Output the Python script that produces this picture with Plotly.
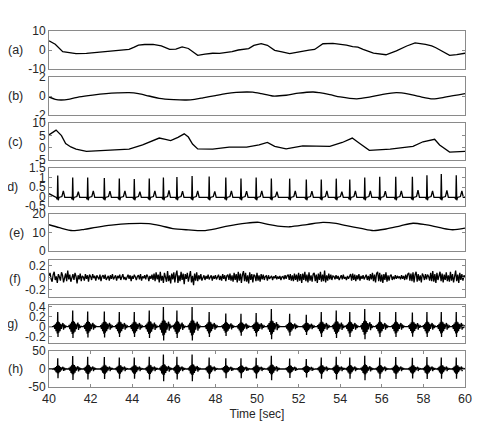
import plotly.graph_objects as go

# ---------------- data ----------------
a_t = [40.0, 40.3, 40.66, 41.0, 41.3, 41.8, 42.26, 42.6, 43.0, 43.4, 43.85, 44.1,
       44.3, 44.6, 45.0, 45.4, 45.8, 46.1, 46.4, 46.7, 47.15, 47.5, 47.87, 48.2,
       48.5, 48.8, 49.1, 49.6, 49.85, 50.2, 50.5, 50.85, 51.2, 51.57, 51.9, 52.2,
       52.5, 52.77, 53.17, 53.65, 54.0, 54.3, 54.6, 54.85, 55.1, 55.6, 56.2, 56.7,
       57.2, 57.6, 58.1, 58.4, 58.6, 59.0, 59.26, 59.6, 60.0]
a_v = [4.8, 3.0, -0.9, -1.6, -1.9, -1.8, -1.4, -1.1, -0.6, -0.2, 0.3, 1.5,
       2.6, 2.9, 3.0, 2.2, 0.3, 0.5, 1.6, 0.8, -2.8, -2.2, -1.7, -1.8,
       -1.4, -0.9, 0.0, 0.7, 2.4, 3.3, 2.5, -0.2, -1.0, -1.9, -1.2, -0.5,
       -0.1, 0.3, 3.3, 3.5, 3.1, 2.6, 1.8, 1.5, 0.3, -1.7, -2.5, -0.5,
       2.1, 3.7, 3.0, 2.2, 1.2, -1.0, -2.8, -2.4, -1.7]

b_t = [40.0, 40.3, 40.58, 41.0, 41.45, 42.1, 42.75, 43.3, 43.85, 44.3, 44.8,
       45.3, 46.0, 46.6, 47.0, 47.4, 48.0, 48.5, 49.0, 49.5, 49.8, 50.2, 50.75,
       51.4, 52.0, 52.7, 53.0, 53.5, 54.0, 54.8, 55.4, 56.0, 56.7, 57.3, 57.8,
       58.45, 59.1, 60.0]
b_v = [-0.1, -0.35, -0.42, -0.32, -0.1, 0.1, 0.25, 0.32, 0.35, 0.25, 0.0,
       -0.25, -0.38, -0.42, -0.35, -0.2, 0.05, 0.25, 0.38, 0.42, 0.4, 0.25, 0.0,
       0.08, 0.3, 0.42, 0.35, 0.15, -0.1, -0.3, -0.12, 0.15, 0.35, 0.2, -0.05,
       -0.3, -0.1, 0.25]

c_t = [40.0, 40.34, 40.6, 40.8, 41.05, 41.3, 41.8, 42.5, 43.06, 43.85, 44.5,
       45.0, 45.3, 45.6, 45.85, 46.2, 46.5, 46.7, 46.9, 47.15, 47.87, 48.66,
       49.5, 50.1, 50.5, 50.85, 51.4, 52.2, 53.5, 54.1, 54.58, 54.94, 55.4,
       56.4, 57.5, 57.98, 58.54, 58.78, 59.26, 60.0]
c_v = [5.2, 7.1, 4.9, 1.7, 0.3, -0.6, -1.5, -1.2, -0.8, -0.6, 1.1,
       2.8, 3.9, 3.4, 2.9, 4.2, 5.6, 4.3, 1.5, -0.5, -0.6, 0.2,
       0.2, 1.1, 2.1, 0.5, -0.5, 0.7, 0.5, 2.1, 3.9, 1.7, -1.1,
       -0.6, 0.5, 2.4, 3.4, 1.1, -1.8, -1.5]

# heart beat times (R peaks) shared by panels d, g, h
beats = [40.42, 41.14, 41.86, 42.66, 43.38, 44.1, 44.82, 45.5, 46.15, 46.88,
         47.7, 48.5, 49.23, 49.96, 50.69, 51.57, 52.37, 53.09, 53.81, 54.46,
         55.18, 55.9, 56.67, 57.47, 58.17, 58.86, 59.58]
d_r = [1.1, 1.0, 1.0, 0.97, 0.95, 0.92, 0.95, 1.0, 1.03, 1.08, 1.05, 1.0,
       0.95, 1.0, 0.95, 0.94, 0.9, 0.9, 0.94, 0.9, 1.0, 1.04, 1.04, 1.04,
       1.12, 1.18, 1.12]
d_tw = [0.3, 0.25, 0.3, 0.28, 0.3, 0.25, 0.3, 0.32, 0.28, 0.3, 0.27, 0.3,
        0.28, 0.3, 0.26, 0.3, 0.28, 0.3, 0.25, 0.3, 0.3, 0.28, 0.3, 0.33,
        0.3, 0.32, 0.3]
# one beat of panel d: offsets (s) and values ("R" / "T" -> per-beat heights)
d_off = [-0.07, -0.02, 0.0, 0.025, 0.06, 0.2, 0.27, 0.34]
d_shape = [-0.05, -0.15, "R", -0.2, -0.05, 0.0, "T", -0.05]

f_v = [0.03, 0.08, -0.02, -0.07, 0.05, 0.10, -0.04, 0.02, -0.09, 0.06, 0.01, -0.05, 0.09, 0.04, -0.08, -0.02, 0.07, -0.06, 0.12, -0.03,
       0.05, -0.07, -0.01, 0.06, -0.04, 0.08, 0.02, -0.10, 0.04, -0.03, 0.07, -0.06, 0.03, 0.01, -0.05, 0.06, -0.02, 0.04, -0.07, 0.05,
       0.02, -0.04, 0.06, -0.01, 0.03, -0.05, 0.04, 0.00, -0.03, 0.05, -0.06, 0.02, 0.04, -0.02, 0.05, -0.04, 0.01, 0.03, -0.05, 0.04,
       -0.02, 0.06, -0.03, 0.02, 0.04, -0.05, 0.03, -0.01, 0.05, -0.04, 0.02, 0.06, -0.03, 0.01, -0.04, 0.03, 0.05, -0.02, 0.04, -0.06,
       0.03, -0.02, 0.05, 0.01, -0.04, 0.02, 0.04, -0.03, 0.06, -0.05, 0.02, -0.01, 0.04, -0.03, 0.05, 0.02, -0.06, 0.03, -0.02, 0.05,
       -0.04, 0.07, -0.06, 0.09, -0.03, 0.05, -0.08, 0.10, -0.05, 0.03, -0.09, 0.08, 0.02, -0.07, 0.11, -0.06, 0.04, -0.10, 0.07, -0.03,
       0.09, -0.08, 0.05, 0.12, -0.09, 0.04, -0.06, 0.10, -0.04, 0.07, -0.11, 0.06, -0.02, 0.08, -0.07, 0.05, 0.11, -0.08, 0.03, -0.13,
       0.07, -0.05, 0.09, -0.06, 0.04, -0.03, 0.06, -0.05, 0.02, 0.04, -0.04, 0.03, -0.02, 0.05, -0.03, 0.01, 0.04, -0.05, 0.03, -0.02,
       0.04, -0.03, 0.02, 0.05, -0.04, 0.03, -0.05, 0.06, -0.02, 0.04, -0.06, 0.03, 0.05, -0.04, 0.07, -0.05, 0.04, -0.07, 0.08, -0.04,
       0.06, -0.08, 0.10, -0.05, 0.07, -0.09, 0.05, 0.11, -0.06, 0.08, -0.07, 0.04, -0.10, 0.09, -0.04, 0.06, -0.08, 0.05, 0.03, -0.06,
       0.08, -0.05, 0.04, -0.07, 0.06, -0.03, 0.05, -0.04, 0.02, 0.03, -0.05, 0.04, -0.02, 0.01, 0.03, -0.04, 0.02, -0.01, 0.04, -0.03,
       0.02, -0.02, 0.03, -0.04, 0.01, 0.02, -0.03, 0.04, -0.02, 0.03, 0.05, -0.04, 0.06, -0.05, 0.04, -0.06, 0.07, -0.04, 0.05, -0.07,
       0.08, -0.05, 0.06, -0.09, 0.07, -0.04, 0.10, -0.06, 0.05, -0.08, 0.09, -0.05, 0.04, -0.07, 0.06, 0.08, -0.06, 0.05, -0.09, 0.07,
       -0.04, 0.10, -0.07, 0.05, -0.06, 0.12, -0.08, 0.04, -0.05, 0.07, -0.03, 0.05, -0.04, 0.03, 0.02, -0.03, 0.04, -0.02, 0.03, -0.04,
       0.02, 0.04, -0.03, 0.05, -0.02, 0.01, -0.04, 0.03, -0.02, 0.04, 0.06, -0.05, 0.07, -0.04, 0.05, -0.06, 0.04, -0.03, 0.06, -0.05,
       0.03, -0.02, 0.04, -0.03, 0.02, 0.05, -0.04, 0.03, -0.05, 0.06, -0.03, 0.08, -0.06, 0.05, -0.08, 0.07, 0.10, -0.06, 0.08, -0.07,
       0.05, -0.09, 0.06, -0.04, 0.09, -0.07, 0.04, -0.05, 0.03, 0.05, -0.04, 0.02, -0.03, 0.04, -0.02, 0.03, -0.01, 0.02, -0.03, 0.04,
       -0.02, 0.03, -0.04, 0.05, -0.03, 0.06, 0.08, -0.05, 0.07, -0.06, 0.09, -0.08, 0.05, 0.10, -0.07, 0.06, -0.05, 0.04, -0.08, 0.07,
       0.03, -0.04, 0.06, -0.03, 0.05, 0.02, -0.05, 0.08, -0.06, 0.11, -0.07, 0.06, -0.09, 0.08, -0.04, 0.05, 0.10, -0.06, 0.07, -0.08,
       0.05, -0.04, 0.09, -0.06, 0.04, -0.07, 0.10, -0.05, 0.06, -0.08, 0.07, 0.12, -0.06, 0.05, -0.09, 0.08, -0.04, 0.06, -0.05, 0.04,
       0.01]
f_step = 0.05

# bursts of panels g and h around each beat (offset s, relative value)
burst_off = [-0.2, -0.17, -0.14, -0.11, -0.08, -0.05, -0.025, -0.01, 0.0, 0.012,
             0.03, 0.05, 0.08, 0.11, 0.14, 0.17, 0.21, 0.25, 0.28, 0.31, 0.35,
             0.39, 0.42]
g_shape = [0.0, 0.1, -0.15, 0.2, -0.3, 0.3, -0.45, 0.3, 1.0, -0.7, 0.35,
           -0.4, 0.3, -0.3, 0.2, -0.15, 0.1, 0.25, -0.2, 0.15, -0.08, 0.05, 0.0]
h_shape = [0.0, 0.08, -0.12, 0.18, -0.3, 0.28, -0.4, 0.3, 1.0, -0.85, 0.35,
           -0.4, 0.3, -0.28, 0.18, -0.12, 0.08, 0.2, -0.18, 0.12, -0.06, 0.04, 0.0]
g_amp = [0.3, 0.33, 0.31, 0.31, 0.3, 0.3, 0.33, 0.4, 0.33, 0.4, 0.3, 0.27,
         0.26, 0.28, 0.36, 0.26, 0.24, 0.3, 0.33, 0.3, 0.36, 0.3, 0.3, 0.29,
         0.3, 0.3, 0.3]
h_amp = [30, 36, 34, 33, 32, 32, 34, 40, 34, 40, 32, 30, 30, 31, 37, 29, 28,
         32, 34, 32, 37, 32, 33, 31, 33, 32, 32]

e_t = [40.0, 40.5, 41.14, 41.7, 42.26, 43.0, 43.85, 44.8, 45.4, 45.95, 46.7,
       47.4, 48.0, 48.5, 49.5, 50.1, 50.6, 51.0, 51.57, 52.4, 53.17, 53.8,
       54.3, 55.0, 55.6, 56.2, 56.9, 57.5, 58.1, 58.8, 59.4, 60.0]
e_v = [14.2, 12.6, 11.0, 11.7, 12.8, 14.0, 14.8, 14.8, 13.6, 12.1, 11.4,
       11.0, 12.0, 13.3, 15.1, 15.5, 14.2, 13.5, 13.1, 14.3, 15.5, 14.9,
       13.7, 12.2, 11.0, 11.9, 13.6, 15.0, 14.2, 12.6, 11.5, 12.4]


def beat_series(shape, amp, offs):
    xs, ys = [], []
    for k, t0 in enumerate(beats):
        for off, s in zip(offs, shape):
            xs.append(t0 + off)
            ys.append(s * amp[k])
    return [40.0] + xs + [60.0], [0.0] + ys + [0.0]


d_x, d_y = [40.0], [0.15]
for k, t0 in enumerate(beats):
    for off, s in zip(d_off, d_shape):
        d_x.append(t0 + off)
        d_y.append(d_r[k] if s == "R" else d_tw[k] if s == "T" else s)
d_x.append(60.0)
d_y.append(-0.05)

g_x, g_y = beat_series(g_shape, g_amp, burst_off)
h_x, h_y = beat_series(h_shape, h_amp, burst_off)
f_x = [40 + i * f_step for i in range(len(f_v))]

# label, x, y, y range, y ticks, smooth line
series = [
    ("(a)", a_t, a_v, [-10, 10], [-10, 0, 10], False),
    ("(b)", b_t, b_v, [-2, 2], [-2, 0, 2], True),
    ("(c)", c_t, c_v, [-5, 10], [-5, 0, 5, 10], False),
    ("(d)", d_x, d_y, [-0.5, 1.5], [-0.5, 0, 0.5, 1, 1.5], False),
    ("(e)", e_t, e_v, [0, 20], [0, 10, 20], True),
    ("(f)", f_x, f_v, [-0.33, 0.3], [-0.2, 0, 0.2], False),
    ("(g)", g_x, g_y, [-0.33, 0.44], [-0.2, 0, 0.2, 0.4], False),
    ("(h)", h_x, h_y, [-50, 50], [-50, 0, 50], False),
]

# panel boxes in pixels (top, bottom) and label right edge
W, H = 490, 423
L, R, T, B = 41, 33, 23, 44
PH = H - T - B
PW = W - L - R
boxes = [(23, 61), (69, 107), (115, 152), (160, 198), (206, 243),
         (252, 289), (297, 335), (343, 379)]
label_right = [16.5, 16.5, 16.5, 11.5, 18, 14.5, 11.5, 16.5]

FRAME = "#8a8a8a"
TXT = "#262626"
FONT = "Liberation Sans, Arial, sans-serif"

fig = go.Figure()
layout = {}
annotations = []
for i, (lab, xs, ys, yr, tv, smooth) in enumerate(series):
    n = "" if i == 0 else str(i + 1)
    line = dict(color="black", width=1.3)
    if smooth:
        line.update(shape="spline", smoothing=0.8)
    fig.add_trace(go.Scatter(x=xs, y=ys, mode="lines", line=line,
                             xaxis="x" + n, yaxis="y" + n, showlegend=False))
    top, bot = boxes[i]
    dom = [(H - B - bot) / PH, (H - B - top) / PH]
    last = i == len(series) - 1
    layout["xaxis" + n] = dict(
        domain=[0, 1], anchor="y" + n, range=[40, 60],
        showline=True, mirror="ticks" if last else True, linecolor=FRAME, linewidth=1,
        showgrid=False, zeroline=False,
        ticks="inside" if last else "", ticklen=3, tickcolor=FRAME,
        tickvals=list(range(40, 61, 2)), showticklabels=last,
        tickfont=dict(size=12.5, color=TXT, family=FONT),
        title=dict(text="Time [sec]", font=dict(size=12, color=TXT, family=FONT),
                   standoff=4) if last else None,
        matches=None if i == 0 else "x",
    )
    layout["yaxis" + n] = dict(
        domain=dom, anchor="x" + n, range=yr,
        showline=True, mirror="ticks", linecolor=FRAME, linewidth=1,
        showgrid=False, zeroline=False,
        ticks="inside", ticklen=3, tickcolor=FRAME,
        tickvals=tv, ticktext=[("%g" % v) for v in tv],
        tickfont=dict(size=12, color=TXT, family=FONT),
    )
    annotations.append(dict(
        text=lab, xref="paper", yref="paper",
        x=(label_right[i] - L) / PW, y=sum(dom) / 2,
        xanchor="right", yanchor="middle", showarrow=False,
        font=dict(size=12.5, color=TXT, family=FONT),
    ))

fig.update_layout(
    width=W, height=H,
    margin=dict(l=L, r=R, t=T, b=B),
    paper_bgcolor="white", plot_bgcolor="white",
    annotations=annotations,
    **layout,
)
fig.write_html("out.html")
